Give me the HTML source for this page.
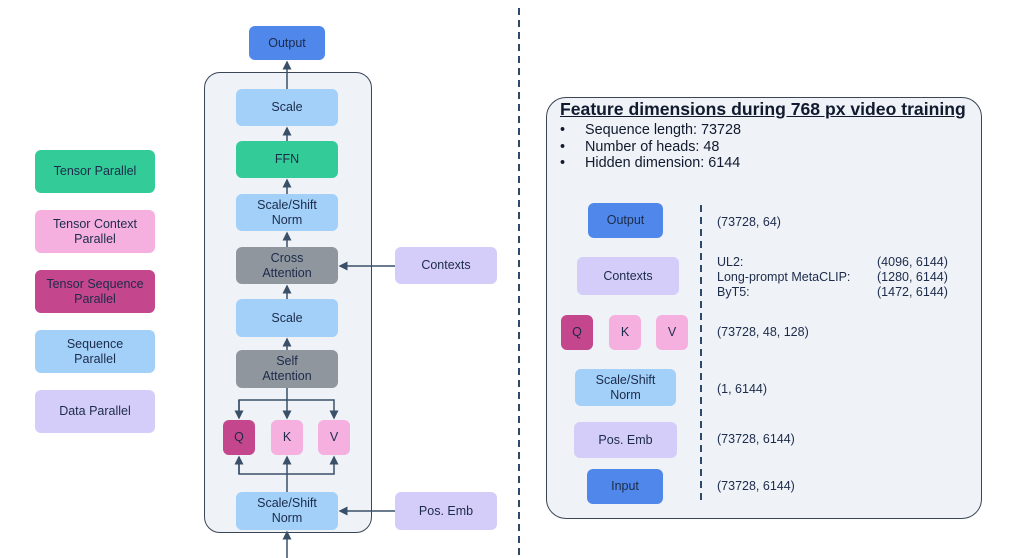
<!DOCTYPE html>
<html><head><style>
body{margin:0;width:1020px;height:558px;background:#fff;position:relative;overflow:hidden;font-family:"Liberation Sans",sans-serif;color:#1c2b4a}
.b{position:absolute;border-radius:6px;display:flex;align-items:center;justify-content:center;text-align:center;font-size:12.5px;line-height:15px}
.t{position:absolute;font-size:12.5px;white-space:pre}
.sc{background:#a2d0f9}.gr{background:#8f969e}.ffn{background:#33cc99}.ctx{background:#d5cdf9}.q{background:#c4468c}.k{background:#f5b0e0}.out{background:#4f88ea}
</style></head><body>
<div class="b ffn" style="left:35px;top:150px;width:120px;height:43px">Tensor Parallel</div>
<div class="b k" style="left:35px;top:210px;width:120px;height:43px">Tensor Context<br>Parallel</div>
<div class="b q" style="left:35px;top:270px;width:120px;height:43px">Tensor Sequence<br>Parallel</div>
<div class="b sc" style="left:35px;top:330px;width:120px;height:43px">Sequence<br>Parallel</div>
<div class="b ctx" style="left:35px;top:390px;width:120px;height:43px">Data Parallel</div>

<div style="position:absolute;left:204px;top:72px;width:166px;height:459px;border:1.5px solid #3a4556;border-radius:16px;background:#eff2f7"></div>
<svg style="position:absolute;left:0;top:0" width="1020" height="558">
<defs><marker id="a" markerWidth="6" markerHeight="6" refX="5" refY="3" orient="auto"><path d="M0,0L6,3L0,6z" fill="#3a5068"/></marker></defs>
<g stroke="#3a5068" stroke-width="1.5" fill="none">
<line x1="287" y1="89" x2="287" y2="62" marker-end="url(#a)"/>
<line x1="287" y1="141" x2="287" y2="128" marker-end="url(#a)"/>
<line x1="287" y1="194" x2="287" y2="180" marker-end="url(#a)"/>
<line x1="287" y1="247" x2="287" y2="233" marker-end="url(#a)"/>
<line x1="287" y1="299" x2="287" y2="286" marker-end="url(#a)"/>
<line x1="287" y1="350" x2="287" y2="339" marker-end="url(#a)"/>
<line x1="395" y1="266" x2="340" y2="266" marker-end="url(#a)"/>
<line x1="395" y1="511" x2="340" y2="511" marker-end="url(#a)"/>
<line x1="287" y1="388" x2="287" y2="418" marker-end="url(#a)"/>
<polyline points="239,418 239,400 334,400 334,418" marker-end="url(#a)"/>
<line x1="239" y1="400" x2="239" y2="418" marker-end="url(#a)"/>
<line x1="287" y1="492" x2="287" y2="457" marker-end="url(#a)"/>
<polyline points="239,457 239,474 334,474 334,457" marker-end="url(#a)"/>
<line x1="239" y1="474" x2="239" y2="457" marker-end="url(#a)"/>
<line x1="287" y1="558" x2="287" y2="532" marker-end="url(#a)"/>
</g>
<line x1="519" y1="8" x2="519" y2="558" stroke="#2e4a6a" stroke-width="2" stroke-dasharray="7,5"/>
</svg>
<div class="b out" style="left:249px;top:26px;width:76px;height:34px">Output</div>
<div class="b sc" style="left:236px;top:89px;width:102px;height:37px">Scale</div>
<div class="b ffn" style="left:236px;top:141px;width:102px;height:37px">FFN</div>
<div class="b sc" style="left:236px;top:194px;width:102px;height:37px">Scale/Shift<br>Norm</div>
<div class="b gr" style="left:236px;top:247px;width:102px;height:37px">Cross<br>Attention</div>
<div class="b ctx" style="left:395px;top:247px;width:102px;height:37px">Contexts</div>
<div class="b sc" style="left:236px;top:299px;width:102px;height:38px">Scale</div>
<div class="b gr" style="left:236px;top:350px;width:102px;height:38px">Self<br>Attention</div>
<div class="b q" style="left:223px;top:420px;width:32px;height:35px">Q</div>
<div class="b k" style="left:271px;top:420px;width:32px;height:35px">K</div>
<div class="b k" style="left:318px;top:420px;width:32px;height:35px">V</div>
<div class="b sc" style="left:236px;top:492px;width:102px;height:38px">Scale/Shift<br>Norm</div>
<div class="b ctx" style="left:395px;top:492px;width:102px;height:38px">Pos. Emb</div>

<div style="position:absolute;left:546px;top:97px;width:434px;height:420px;border:1.5px solid #3a4556;border-radius:20px;background:#eff2f7"></div>
<div class="t" style="left:560px;top:99px;font-size:17.6px;font-weight:bold;text-decoration:underline;color:#111a2e">Feature dimensions during 768 px video training</div>
<div class="t" style="left:560px;top:122px;font-size:14.4px;line-height:16.5px;color:#111a2e">•     Sequence length: 73728
•     Number of heads: 48
•     Hidden dimension: 6144</div>
<svg style="position:absolute;left:0;top:0" width="1020" height="558"><line x1="701" y1="205" x2="701" y2="505" stroke="#2e4a6a" stroke-width="2" stroke-dasharray="7,5"/></svg>
<div class="b out" style="left:588px;top:203px;width:75px;height:35px">Output</div>
<div class="b ctx" style="left:577px;top:257px;width:102px;height:38px">Contexts</div>
<div class="b q" style="left:561px;top:315px;width:32px;height:35px">Q</div>
<div class="b k" style="left:609px;top:315px;width:32px;height:35px">K</div>
<div class="b k" style="left:656px;top:315px;width:32px;height:35px">V</div>
<div class="b sc" style="left:575px;top:369px;width:101px;height:37px">Scale/Shift<br>Norm</div>
<div class="b ctx" style="left:574px;top:422px;width:103px;height:36px">Pos. Emb</div>
<div class="b out" style="left:587px;top:469px;width:76px;height:35px">Input</div>
<div class="t" style="left:717px;top:215px">(73728, 64)</div>
<div class="t" style="left:717px;top:255px;line-height:15px">UL2:
Long-prompt MetaCLIP:
ByT5:</div>
<div class="t" style="left:877px;top:255px;line-height:15px">(4096, 6144)
(1280, 6144)
(1472, 6144)</div>
<div class="t" style="left:717px;top:325px">(73728, 48, 128)</div>
<div class="t" style="left:717px;top:382px">(1, 6144)</div>
<div class="t" style="left:717px;top:432px">(73728, 6144)</div>
<div class="t" style="left:717px;top:479px">(73728, 6144)</div>
</body></html>
